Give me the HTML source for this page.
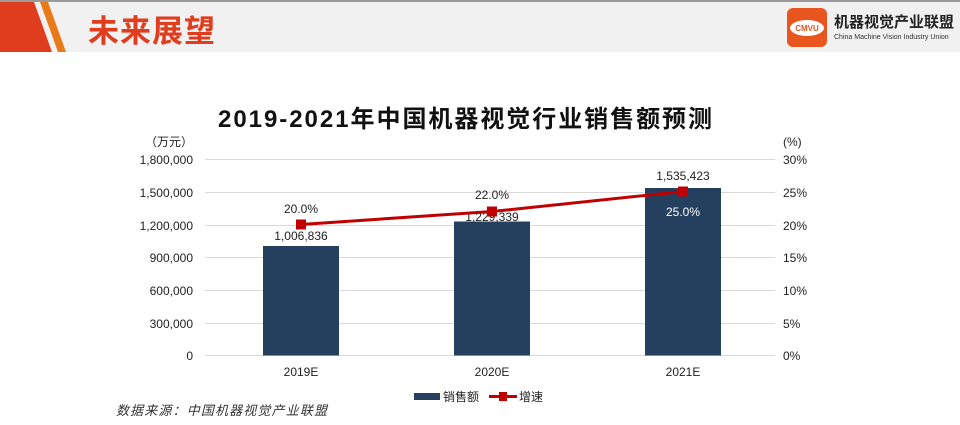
<!DOCTYPE html>
<html><head><meta charset="utf-8"><style>
html,body{margin:0;padding:0;width:960px;height:425px;overflow:hidden;background:#fff}
svg text{font-family:"Liberation Sans","Noto Sans CJK SC",sans-serif}
</style></head><body>
<svg width="960" height="425" xmlns="http://www.w3.org/2000/svg">
<rect x="0" y="0" width="960" height="425" fill="#fff"/>
<rect x="0" y="0" width="960" height="52" fill="#f1f1f1"/>
<rect x="0" y="0" width="960" height="2" fill="#9a9a9a"/>
<polygon points="0,2 34,2 52,52 0,52" fill="#e03c1e"/>
<polygon points="40,2 48,2 66,52 58,52" fill="#e87a1a"/>
<text x="88" y="42" font-size="31" font-weight="bold" fill="#e03c1e" textLength="127">未来展望</text>
<rect x="787" y="8" width="40" height="39" rx="6" fill="#e8551f"/>
<ellipse cx="807" cy="28" rx="17" ry="8" fill="#fff"/>
<text x="807" y="31" font-size="8" font-weight="bold" fill="#e8551f" text-anchor="middle">CMVU</text>
<text x="834" y="27" font-size="15" font-weight="bold" fill="#222">机器视觉产业联盟</text>
<text x="834" y="39" font-size="7" fill="#333">China Machine Vision Industry Union</text>
<text x="465" y="127" font-size="24" font-weight="bold" fill="#111" text-anchor="middle" textLength="494">2019-2021年中国机器视觉行业销售额预测</text>
<g stroke="#d9d9d9" stroke-width="1">
<line x1="205" y1="159.5" x2="775" y2="159.5"/>
<line x1="205" y1="192.5" x2="775" y2="192.5"/>
<line x1="205" y1="225.5" x2="775" y2="225.5"/>
<line x1="205" y1="257.5" x2="775" y2="257.5"/>
<line x1="205" y1="290.5" x2="775" y2="290.5"/>
<line x1="205" y1="323.5" x2="775" y2="323.5"/>
<line x1="205" y1="355.5" x2="775" y2="355.5"/>
</g>
<g font-size="12" fill="#222" text-anchor="end">
<text x="193" y="146">（万元）</text>
<text x="193" y="164">1,800,000</text>
<text x="193" y="197">1,500,000</text>
<text x="193" y="230">1,200,000</text>
<text x="193" y="262">900,000</text>
<text x="193" y="295">600,000</text>
<text x="193" y="328">300,000</text>
<text x="193" y="360">0</text>
</g>
<g font-size="12" fill="#222">
<text x="783" y="146">(%)</text>
<text x="783" y="164">30%</text>
<text x="783" y="197">25%</text>
<text x="783" y="230">20%</text>
<text x="783" y="262">15%</text>
<text x="783" y="295">10%</text>
<text x="783" y="328">5%</text>
<text x="783" y="360">0%</text>
</g>
<g fill="#253f5f">
<rect x="263" y="246" width="76" height="109.5"/>
<rect x="454" y="221.5" width="76" height="134"/>
<rect x="645" y="188" width="76" height="167.5"/>
</g>
<g font-size="12" fill="#222" text-anchor="middle">
<text x="301" y="376">2019E</text>
<text x="492" y="376">2020E</text>
<text x="683" y="376">2021E</text>
<text x="301" y="240">1,006,836</text>
<text x="492" y="221">1,229,339</text>
<text x="683" y="180">1,535,423</text>
<text x="301" y="213">20.0%</text>
<text x="492" y="199">22.0%</text>
<text x="683" y="216" fill="#fff">25.0%</text>
</g>
<polyline points="301,224.5 492,211.5 683,191.5" fill="none" stroke="#c00000" stroke-width="3"/>
<g fill="#c00000">
<rect x="296" y="219.5" width="10" height="10"/>
<rect x="487" y="206.5" width="10" height="10"/>
<rect x="678" y="186.5" width="10" height="10"/>
</g>
<rect x="414" y="393" width="26" height="7" fill="#253f5f"/>
<text x="443" y="401" font-size="12" fill="#222">销售额</text>
<line x1="489" y1="396.5" x2="517" y2="396.5" stroke="#c00000" stroke-width="3"/>
<rect x="499" y="392" width="8" height="9" fill="#c00000"/>
<text x="519" y="401" font-size="12" fill="#222">增速</text>
<text x="116" y="415" font-size="13" font-style="italic" fill="#333" textLength="211">数据来源：中国机器视觉产业联盟</text>
</svg>
</body></html>
